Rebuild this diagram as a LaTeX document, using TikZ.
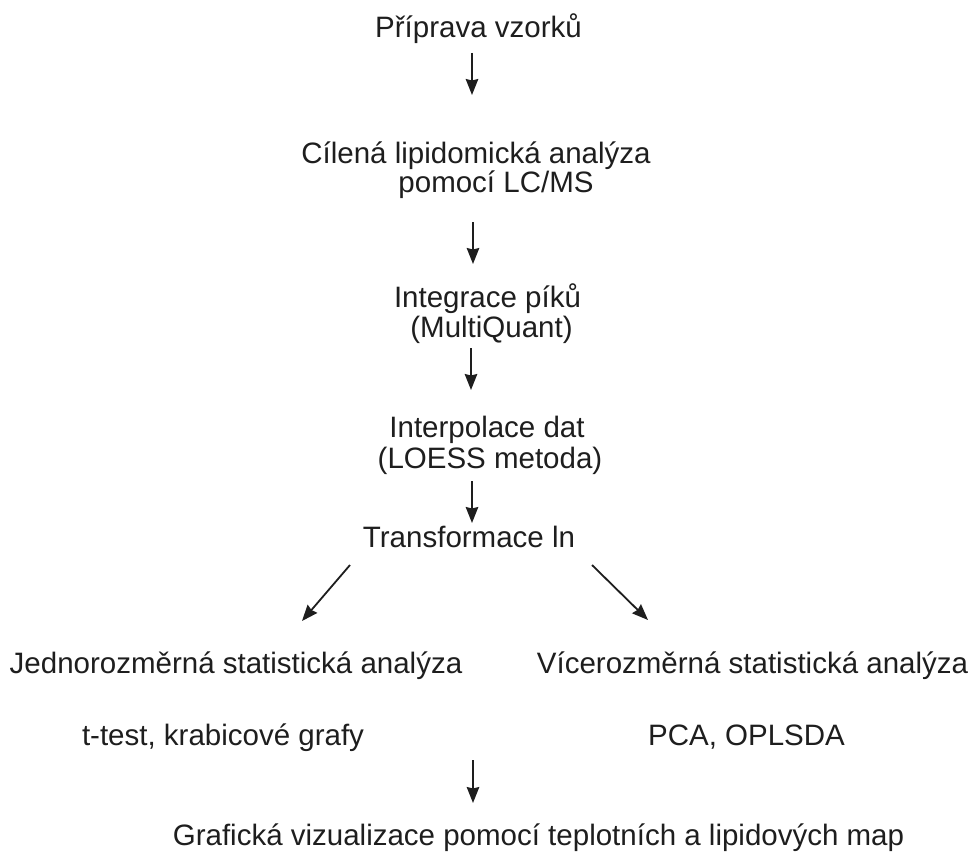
\documentclass[tikz,border=0pt]{standalone}
\usepackage{fontspec}
\setmainfont{Liberation Sans}
\usetikzlibrary{arrows.meta}
\definecolor{ink}{HTML}{1E1E1E}
\tikzset{
  lbl/.style={anchor=base, inner sep=0pt, text=ink, font=\fontsize{29.5}{32}\selectfont},
  arr/.style={draw=ink, line width=1.8pt, -{Stealth[length=16pt,width=12.5pt,inset=1.5pt]}}
}
\begin{document}
\begin{tikzpicture}[x=1pt,y=-1pt]
\useasboundingbox[fill=white] (0,0) rectangle (974,856);
% text nodes
\node[lbl] (prip)  at (478.5,38) {Příprava vzorků};
\node[lbl] (cil1)  at (476,163) {Cílená lipidomická analýza};
\node[lbl] (cil2)  at (496,192) {pomocí LC/MS};
\node[lbl] (int1)  at (487.5,307) {Integrace píků};
\node[lbl] (int2)  at (491.5,337) {(MultiQuant)};
\node[lbl] (ip1)   at (487,437) {Interpolace dat};
\node[lbl] (ip2)   at (490,468) {(LOESS metoda)};
\node[lbl] (trans) at (469,547) {Transformace ln};
\node[lbl] (jedno) at (236,673) {Jednorozměrná statistická analýza};
\node[lbl] (vice)  at (752.5,673) {Vícerozměrná statistická analýza};
\node[lbl] (ttest) at (223,745) {t-test, krabicové grafy};
\node[lbl] (pca)   at (746.5,745) {PCA, OPLSDA};
\node[lbl] (graf)  at (538.5,845) {Grafická vizualizace pomocí teplotních a lipidových map};
% arrow end points
\coordinate (a1s) at (472,53);  \coordinate (a1e) at (472,95);
\coordinate (a2s) at (473,222); \coordinate (a2e) at (473,264);
\coordinate (a3s) at (471,348); \coordinate (a3e) at (471,390);
\coordinate (a4s) at (472,481); \coordinate (a4e) at (472,523);
\coordinate (als) at (350,565); \coordinate (ale) at (302,621);
\coordinate (ars) at (592,565); \coordinate (are) at (648,620);
\coordinate (a5s) at (473,760); \coordinate (a5e) at (473,803);
\draw[arr] (a1s) -- (a1e);
\draw[arr] (a2s) -- (a2e);
\draw[arr] (a3s) -- (a3e);
\draw[arr] (a4s) -- (a4e);
\draw[arr] (als) -- (ale);
\draw[arr] (ars) -- (are);
\draw[arr] (a5s) -- (a5e);
\end{tikzpicture}
\end{document}
